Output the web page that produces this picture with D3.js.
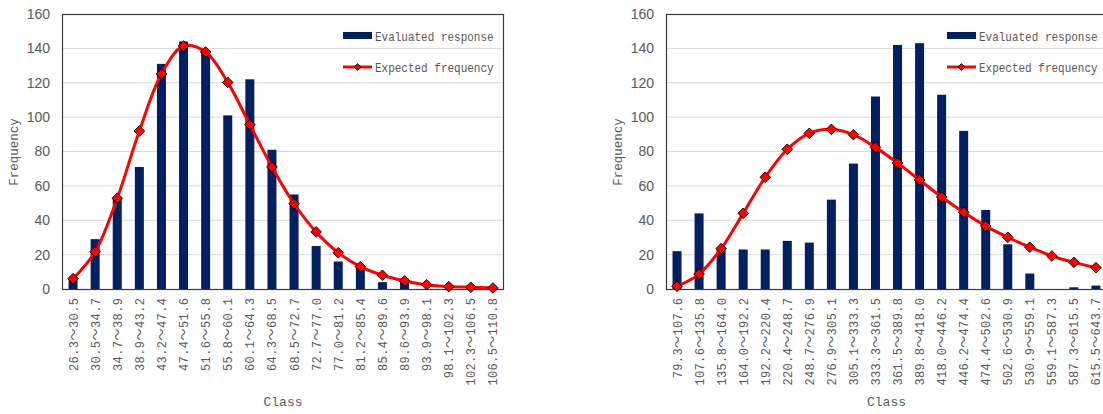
<!DOCTYPE html>
<html>
<head>
<meta charset="utf-8">
<script src="https://cdn.jsdelivr.net/npm/d3@7/dist/d3.min.js"></script>
<style>
  html, body { margin: 0; padding: 0; background: #fff; }
  svg { display: block; }
</style>
</head>
<body>
<svg id="chart" width="1103" height="414"></svg>
<script>
// Class intervals and frequencies for the two histograms
const classesA = ["26.3～30.5","30.5～34.7","34.7～38.9","38.9～43.2","43.2～47.4","47.4～51.6","51.6～55.8","55.8～60.1","60.1～64.3","64.3～68.5","68.5～72.7","72.7～77.0","77.0～81.2","81.2～85.4","85.4～89.6","89.6～93.9","93.9～98.1","98.1～102.3","102.3～106.5","106.5～110.8"];
const responseA = [5, 29, 52, 71, 131, 144, 139, 101, 122, 81, 55, 25, 16, 13, 4, 6, 0, 0, 0, 0];
const expectedA = [6.0, 21.7, 52.8, 91.9, 125.1, 141.4, 137.9, 120.2, 95.6, 71.0, 49.6, 33.2, 21.1, 13.0, 8.0, 4.7, 2.5, 1.4, 1.0, 0.6];

const classesB = ["79.3～107.6","107.6～135.8","135.8～164.0","164.0～192.2","192.2～220.4","220.4～248.7","248.7～276.9","276.9～305.1","305.1～333.3","333.3～361.5","361.5～389.8","389.8～418.0","418.0～446.2","446.2～474.4","474.4～502.6","502.6～530.9","530.9～559.1","559.1～587.3","587.3～615.5","615.5～643.7"];
const responseB = [22, 44, 23, 23, 23, 28, 27, 52, 73, 112, 142, 143, 113, 92, 46, 26, 9, 0, 1, 2];
const expectedB = [1.6, 8.7, 23.5, 44.0, 65.0, 81.3, 90.6, 92.9, 89.8, 82.4, 73.3, 63.4, 53.5, 44.6, 36.6, 30.1, 24.3, 19.2, 15.5, 12.4];

const yTicks = [0, 20, 40, 60, 80, 100, 120, 140, 160];
const seriesNames = ["Evaluated response", "Expected frequency"];

const svg = d3.select("#chart");
const monoFont = "'Liberation Mono', 'Noto Sans CJK JP', monospace";
const tickFont = "'Liberation Sans', Arial, sans-serif";
const textColor = "#595959";

function drawPanel(x0, x1, classes, response, expected) {
  const top = 14, bottom = 289;
  const g = svg.append("g");

  const x = d3.scaleBand().domain(classes).range([x0, x1]);
  const y = d3.scaleLinear().domain([0, 160]).range([bottom, top]);

  // horizontal gridlines
  g.append("g").selectAll("line").data(yTicks.slice(1, -1)).join("line")
    .attr("x1", x0).attr("x2", x1)
    .attr("y1", d => y(d)).attr("y2", d => y(d))
    .attr("stroke", "#d9d9d9").attr("stroke-width", 1);

  // bars
  const bw = 9;
  g.append("g").selectAll("rect").data(response).join("rect")
    .attr("x", (d, i) => x(classes[i]) + x.bandwidth() / 2 - bw / 2)
    .attr("y", d => y(d))
    .attr("width", bw)
    .attr("height", d => bottom - y(d))
    .attr("fill", "#002060");

  // plot frame
  g.append("rect")
    .attr("x", x0 + 0.5).attr("y", top + 0.5)
    .attr("width", x1 - x0 - 1).attr("height", bottom - top)
    .attr("fill", "none").attr("stroke", "#3a3a3a").attr("stroke-width", 1.2);

  // expected-frequency curve with diamond markers
  const line = d3.line()
    .x((d, i) => x(classes[i]) + x.bandwidth() / 2)
    .y(d => y(d))
    .curve(d3.curveCatmullRom.alpha(0.5));
  g.append("path").datum(expected)
    .attr("d", line)
    .attr("fill", "none").attr("stroke", "#ff0000").attr("stroke-width", 3);

  const diamond = d3.symbol().type(d3.symbolDiamond2).size(72);
  g.append("g").selectAll("path").data(expected).join("path")
    .attr("transform", (d, i) => `translate(${x(classes[i]) + x.bandwidth() / 2},${y(d)})`)
    .attr("d", diamond)
    .attr("fill", "#ff0000").attr("stroke", "#000").attr("stroke-width", 0.9);

  // y axis tick labels
  const yAxis = d3.axisLeft(y).tickValues(yTicks).tickSize(0).tickPadding(12);
  const ya = g.append("g").attr("transform", `translate(${x0},0)`).call(yAxis);
  ya.select(".domain").remove();
  ya.selectAll("text")
    .style("font-family", tickFont).style("font-size", "14px")
    .attr("fill", textColor);

  // x axis category labels, vertical; the full-width tilde takes two cells
  const xAxis = d3.axisBottom(x).tickSize(0).tickPadding(0);
  const xa = g.append("g").attr("transform", `translate(0,${bottom})`).call(xAxis);
  xa.select(".domain").remove();
  xa.selectAll("text")
    .style("font-family", monoFont).style("font-size", "12px")
    .attr("fill", textColor)
    .attr("text-anchor", "end")
    .attr("dy", null)
    .attr("y", 0).attr("x", 0)
    .attr("textLength", d => (d.length + 1) * 7.3)
    .attr("lengthAdjust", "spacing")
    .attr("transform", "translate(4.5,9) rotate(-90)");

  // axis titles
  g.append("text")
    .attr("x", (x0 + x1) / 2).attr("y", 406)
    .attr("text-anchor", "middle")
    .style("font-family", monoFont).style("font-size", "13px").attr("fill", textColor)
    .text("Class");
  g.append("text")
    .attr("transform", `translate(${x0 - 44},152) rotate(-90)`)
    .attr("text-anchor", "middle")
    .style("font-family", monoFont).style("font-size", "12.5px").attr("fill", textColor)
    .text("Frequency");

  // legend
  const lx = x0 + 281;
  const lg = g.append("g");
  lg.append("rect").attr("x", lx).attr("y", 32).attr("width", 29).attr("height", 7)
    .attr("fill", "#002060");
  lg.append("line").attr("x1", lx).attr("x2", lx + 29).attr("y1", 67).attr("y2", 67)
    .attr("stroke", "#ff0000").attr("stroke-width", 3);
  lg.append("path").attr("transform", `translate(${lx + 14.5},67)`)
    .attr("d", d3.symbol().type(d3.symbolDiamond2).size(30))
    .attr("fill", "#ff0000").attr("stroke", "#000").attr("stroke-width", 0.8);
  lg.selectAll("text.leg").data(seriesNames).join("text")
    .attr("class", "leg")
    .attr("transform", (d, i) => `translate(${lx + 32},${40.5 + i * 31}) scale(1,1.2)`)
    .style("font-family", monoFont).style("font-size", "11px").attr("fill", textColor)
    .text(d => d);
}

drawPanel(62, 504, classesA, responseA, expectedA);
drawPanel(666, 1107, classesB, responseB, expectedB);
</script>
</body>
</html>
